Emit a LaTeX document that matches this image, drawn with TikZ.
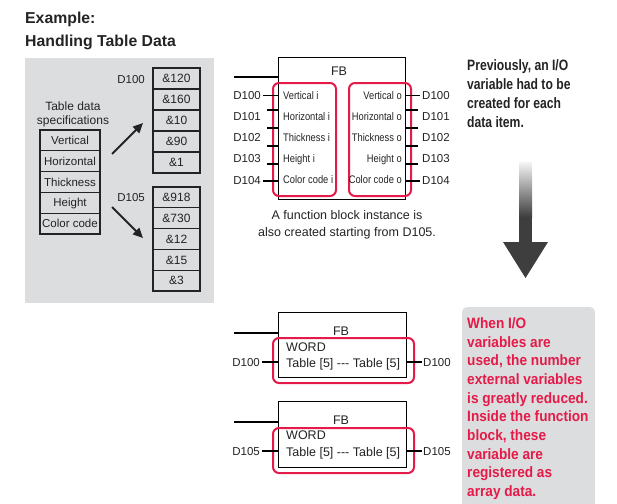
\documentclass[tikz,border=0pt]{standalone}
\usepackage{fontspec}
\setmainfont{Liberation Sans}
\newfontfamily\condfont{Liberation Sans}[FakeStretch=0.85]
\newfontfamily\prevfont{Liberation Sans}[FakeStretch=0.81]
\newfontfamily\redfont{Liberation Sans}[FakeStretch=0.91]
\usetikzlibrary{calc,arrows.meta}
\definecolor{panelgray}{RGB}{220,221,223}
\definecolor{hlred}{RGB}{228,26,72}
\definecolor{arrowdark}{RGB}{62,62,62}
\definecolor{ink}{RGB}{35,35,35}
\begin{document}
\begin{tikzpicture}[x=1pt,y=-1pt,
  txt/.style={inner sep=0pt, text=ink, font=\fontsize{12}{14}\selectfont},
  fbtxt/.style={inner sep=0pt, text=ink, font=\fontsize{12.5}{14}\selectfont},
  dlbl/.style={inner sep=0pt, text=ink, font=\fontsize{11.5}{14}\selectfont},
  pinlbl/.style={inner sep=0pt, text=ink, font=\condfont\fontsize{11}{13}\selectfont},
  cell/.style={draw=ink, line width=1.2pt, minimum width=47pt, minimum height=21pt,
    inner sep=0pt, text height=8.4pt, text depth=0pt, text=ink, font=\fontsize{12}{14}\selectfont},
  speccell/.style={cell, minimum width=60pt, minimum height=20.8pt, font=\fontsize{11.5}{14}\selectfont, text height=8.2pt},
  fbbox/.style={draw=black, line width=1.2pt, inner sep=0pt, anchor=north west},
  redbox/.style={draw=hlred, line width=2pt, rounded corners=6pt, inner sep=0pt, anchor=north west},
  pin/.style={draw=black, line width=1.1pt},
  fatarrow/.style={draw=ink, line width=2pt, -{Triangle[length=10pt,width=9pt]}},
  prevtxt/.style={inner sep=0pt, anchor=base west, text=ink, font=\prevfont\bfseries\fontsize{15}{19}\selectfont},
  redtxt/.style={inner sep=0pt, anchor=base west, text=hlred, font=\redfont\bfseries\fontsize{15}{19}\selectfont}
]
\useasboundingbox (0,0) rectangle (617,503);

% ---------- title ----------
\node[txt, anchor=base west, font=\bfseries\fontsize{15.8}{18}\selectfont] (t1) at (25,23.5) {Example:};
\node[txt, anchor=base west, font=\bfseries\fontsize{15.8}{18}\selectfont] (t2) at (25,47) {Handling Table Data};

% ---------- left gray panel ----------
\fill[panelgray] (25,58) rectangle (214,303);

\node[txt, anchor=base] (spec1) at (73,110) {Table data};
\node[txt, anchor=base] (spec2) at (73,124) {specifications};

\node[speccell] (s1) at (70,140.4) {Vertical};
\node[speccell] (s2) at (70,161.2) {Horizontal};
\node[speccell] (s3) at (70,182.0) {Thickness};
\node[speccell] (s4) at (70,202.8) {Height};
\node[speccell] (s5) at (70,223.6) {Color code};

\node[cell] (a1) at (176.5,78.5) {\&120};
\node[cell] (a2) at (176.5,99.5) {\&160};
\node[cell] (a3) at (176.5,120.5) {\&10};
\node[cell] (a4) at (176.5,141.5) {\&90};
\node[cell] (a5) at (176.5,162.5) {\&1};

\node[cell, minimum height=20.8pt] (b1) at (176.5,197.4) {\&918};
\node[cell, minimum height=20.8pt] (b2) at (176.5,218.2) {\&730};
\node[cell, minimum height=20.8pt] (b3) at (176.5,239.0) {\&12};
\node[cell, minimum height=20.8pt] (b4) at (176.5,259.8) {\&15};
\node[cell, minimum height=20.8pt] (b5) at (176.5,280.6) {\&3};

\node[dlbl, anchor=base east] (la) at (145,83.1) {D100};
\node[dlbl, anchor=base east] (lb) at (145,201.1) {D105};

\coordinate (ar1s) at (112,154);
\coordinate (ar1e) at (143,123);
\coordinate (ar2s) at (112,207);
\coordinate (ar2e) at (143,238);
\draw[fatarrow] (ar1s) -- (ar1e);
\draw[fatarrow] (ar2s) -- (ar2e);

% ---------- top FB ----------
\node[fbbox, minimum width=127pt, minimum height=142pt] (fbA) at (278,57) {};
\coordinate (enA) at (234,77);
\draw[pin] (enA) -- (enA -| fbA.west);
\node[fbtxt, anchor=base] (fbAl) at (339,75.5) {FB};

\node[redbox, minimum width=63pt, minimum height=113pt] (rAi) at (272,82) {};
\node[redbox, minimum width=62pt, minimum height=113pt] (rAo) at (348,82) {};

\node[pinlbl, anchor=base west] (i1) at (283,99.4) {Vertical i};
\node[pinlbl, anchor=base west] (i2) at (283,120.6) {Horizontal i};
\node[pinlbl, anchor=base west] (i3) at (283,141.6) {Thickness i};
\node[pinlbl, anchor=base west] (i4) at (283,162.2) {Height i};
\node[pinlbl, anchor=base west] (i5) at (283,183.9) {Color code i};

\node[pinlbl, anchor=base east] (o1) at (402,99.4) {Vertical o};
\node[pinlbl, anchor=base east] (o2) at (402,120.6) {Horizontal o};
\node[pinlbl, anchor=base east] (o3) at (402,141.6) {Thickness o};
\node[pinlbl, anchor=base east] (o4) at (402,162.2) {Height o};
\node[pinlbl, anchor=base east] (o5) at (402,183.9) {Color code o};

\node[dlbl, anchor=base east] (dl1) at (261,99.6) {D100};
\node[dlbl, anchor=base east] (dl2) at (261,120.8) {D101};
\node[dlbl, anchor=base east] (dl3) at (261,141.8) {D102};
\node[dlbl, anchor=base east] (dl4) at (261,162.4) {D103};
\node[dlbl, anchor=base east] (dl5) at (261,184.1) {D104};

\node[dlbl, anchor=base west] (dr1) at (422,99.6) {D100};
\node[dlbl, anchor=base west] (dr2) at (422,120.8) {D101};
\node[dlbl, anchor=base west] (dr3) at (422,141.8) {D102};
\node[dlbl, anchor=base west] (dr4) at (422,162.4) {D103};
\node[dlbl, anchor=base west] (dr5) at (422,184.1) {D104};

% left pins
\coordinate (pl1) at (263,95.5);
\coordinate (pl2) at (267,110);
\coordinate (pl3) at (267,128);
\coordinate (pl4) at (267,146);
\coordinate (pl5) at (267,164);
\coordinate (pl6) at (263,181);
\foreach \p in {pl1,pl2,pl3,pl4,pl5,pl6} \draw[pin] (\p) -- (\p -| fbA.west);
% right pins
\coordinate (pr1) at (420,95.5);
\coordinate (pr2) at (418,110);
\coordinate (pr3) at (418,128);
\coordinate (pr4) at (418,146);
\coordinate (pr5) at (418,164);
\coordinate (pr6) at (420,181);
\foreach \p in {pr1,pr2,pr3,pr4,pr5,pr6} \draw[pin] (\p -| fbA.east) -- (\p);

\node[txt, anchor=base, font=\fontsize{12.5}{17}\selectfont] (cap1) at (347,219.5) {A function block instance is};
\node[txt, anchor=base, font=\fontsize{12.5}{17}\selectfont] (cap2) at (347,236.5) {also created starting from D105.};

% ---------- right top text ----------
\node[prevtxt] (p1) at (467,70.4) {Previously, an I/O};
\node[prevtxt] (p2) at (467,89.4) {variable had to be};
\node[prevtxt] (p3) at (467,108.4) {created for each};
\node[prevtxt] (p4) at (467,127.4) {data item.};

% ---------- big gradient arrow ----------
\shade[top color=gray!8, bottom color=arrowdark] (519,162) rectangle (532,217);
\fill[arrowdark] (519,216.5) rectangle (532,243);
\fill[arrowdark] (503,242) -- (548,242) -- (525.5,278) -- cycle;

% ---------- bottom FB 1 ----------
\node[fbbox, minimum width=128pt, minimum height=65pt] (fbB) at (278,312) {};
\coordinate (enB) at (234,333);
\draw[pin] (enB) -- (enB -| fbB.west);
\node[fbtxt, anchor=base] (fbBl) at (341,335.5) {FB};
\node[redbox, minimum width=141pt, minimum height=45pt] (rB) at (272,337) {};
\node[fbtxt, anchor=base west] (wB) at (286,351.5) {WORD};
\node[fbtxt, anchor=base west] (tB) at (286,367.5) {Table [5] -{}-{}- Table [5]};
\node[dlbl, anchor=base east] (dBl) at (260,366.3) {D100};
\node[dlbl, anchor=base west] (dBr) at (423,366.3) {D100};
\coordinate (pBl) at (262,362);
\coordinate (pBr) at (422,362);
\draw[pin] (pBl) -- (pBl -| fbB.west);
\draw[pin] (pBr -| fbB.east) -- (pBr);

% ---------- bottom FB 2 ----------
\node[fbbox, minimum width=128pt, minimum height=66pt] (fbC) at (278,401) {};
\coordinate (enC) at (234,422);
\draw[pin] (enC) -- (enC -| fbC.west);
\node[fbtxt, anchor=base] (fbCl) at (341,424.5) {FB};
\node[redbox, minimum width=141pt, minimum height=45pt] (rC) at (272,427) {};
\node[fbtxt, anchor=base west] (wC) at (286,439.5) {WORD};
\node[fbtxt, anchor=base west] (tC) at (286,456) {Table [5] -{}-{}- Table [5]};
\node[dlbl, anchor=base east] (dCl) at (260,455.3) {D105};
\node[dlbl, anchor=base west] (dCr) at (423,455.3) {D105};
\coordinate (pCl) at (262,451);
\coordinate (pCr) at (422,451);
\draw[pin] (pCl) -- (pCl -| fbC.west);
\draw[pin] (pCr -| fbC.east) -- (pCr);

% ---------- red note panel ----------
\fill[panelgray, rounded corners=5pt] (462,307) rectangle (595,520);
\node[redtxt] (r1) at (467,328.4) {When I/O};
\node[redtxt] (r2) at (467,347.1) {variables are};
\node[redtxt] (r3) at (467,365.7) {used, the number};
\node[redtxt] (r4) at (467,384.4) {external variables};
\node[redtxt] (r5) at (467,403.1) {is greatly reduced.};
\node[redtxt] (r6) at (467,421.7) {Inside the function};
\node[redtxt] (r7) at (467,440.4) {block, these};
\node[redtxt] (r8) at (467,459.1) {variable are};
\node[redtxt] (r9) at (467,477.7) {registered as};
\node[redtxt] (r10) at (467,496.4) {array data.};
\end{tikzpicture}
\end{document}
